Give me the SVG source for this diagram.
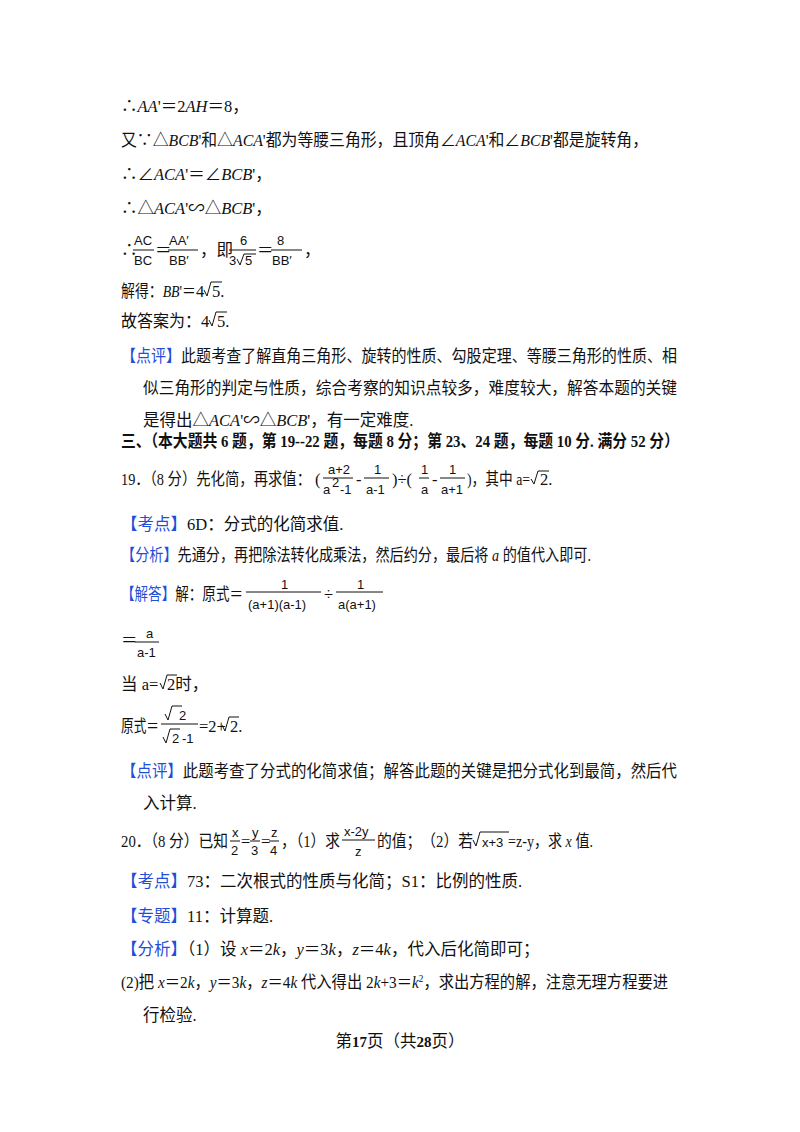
<svg xmlns="http://www.w3.org/2000/svg" width="800" height="1132" viewBox="0 0 800 1132">
<style>
text{font-family:"Liberation Serif","Noto Sans CJK SC",serif;font-size:16.5px;fill:#111}
.i{font-style:italic}
.b{fill:#1f4fd8}
.s{font-family:"Liberation Sans","Noto Sans CJK SC",sans-serif;font-size:13px}
.bold{font-weight:bold}
line{stroke:#111;stroke-width:1}
path{fill:none;stroke:#111;stroke-width:1}
</style>
<rect width="800" height="1132" fill="#fff"/>
<g id="body">
<text x="121" y="112">∴<tspan class="i">AA</tspan>'＝2<tspan class="i">AH</tspan>＝8，</text>
<text x="121" y="146" textLength="527" lengthAdjust="spacingAndGlyphs">又∵△<tspan class="i">BCB</tspan>'和△<tspan class="i">ACA</tspan>'都为等腰三角形，且顶角∠<tspan class="i">ACA</tspan>'和∠<tspan class="i">BCB</tspan>'都是旋转角，</text>
<text x="121" y="180">∴∠<tspan class="i">ACA</tspan>'＝∠<tspan class="i">BCB</tspan>'，</text>
<text x="121" y="214">∴△<tspan class="i">ACA</tspan>'∽△<tspan class="i">BCB</tspan>'，</text>
<text x="121" y="256">∴</text>
<text class="s" x="134" y="245">AC</text><line x1="133" y1="250" x2="154" y2="250"/><text class="s" x="134" y="265">BC</text>
<text x="155" y="256">＝</text>
<text class="s" x="169" y="245">AA′</text><line x1="168" y1="250" x2="198" y2="250"/><text class="s" x="169" y="265">BB′</text>
<text x="200" y="256">，即</text>
<text class="s" x="240" y="245">6</text><line x1="229" y1="250" x2="256" y2="250"/><text class="s" x="229" y="265">3</text><path d="M237 259 l3 6 l4 -11 h12"/><text class="s" x="245" y="265">5</text>
<text x="257" y="256">＝</text>
<text class="s" x="277" y="245">8</text><line x1="271" y1="250" x2="302" y2="250"/><text class="s" x="272" y="265">BB′</text>
<text x="304" y="256">，</text>
<text x="121" y="297" textLength="75" lengthAdjust="spacingAndGlyphs">解得：<tspan class="i">BB</tspan>'＝</text><text x="196" y="297">4</text><path d="M204 290 l3 6 l4 -14 h11"/><text x="212" y="297">5.</text>
<text x="121" y="327" textLength="80" lengthAdjust="spacingAndGlyphs">故答案为：</text><text x="201" y="327">4</text><path d="M209 320 l3 6 l4 -14 h11"/><text x="217" y="327">5.</text>
<text x="121" y="362" textLength="556" lengthAdjust="spacingAndGlyphs"><tspan class="b">【点评】</tspan>此题考查了解直角三角形、旋转的性质、勾股定理、等腰三角形的性质、相</text>
<text x="143" y="394" textLength="534" lengthAdjust="spacingAndGlyphs">似三角形的判定与性质，综合考察的知识点较多，难度较大，解答本题的关键</text>
<text x="143" y="426">是得出△<tspan class="i">ACA</tspan>'∽△<tspan class="i">BCB</tspan>'，有一定难度.</text>
<text x="121" y="447" class="bold" textLength="558" lengthAdjust="spacingAndGlyphs">三、（本大题共 6 题，第 19--22 题，每题 8 分；第 23、24 题，每题 10 分. 满分 52 分）</text>
<text x="121" y="485" textLength="190" lengthAdjust="spacingAndGlyphs">19．（8 分）先化简，再求值：</text><text x="315" y="485">(</text>
<text class="s" x="328" y="474">a+2</text><line x1="323" y1="478" x2="353" y2="478"/><text class="s" x="323" y="494">a</text><text class="s" x="332" y="487" font-size="10">2</text><text class="s" x="340" y="494">-1</text>
<text x="356" y="485">-</text>
<text class="s" x="374" y="474">1</text><line x1="364" y1="478" x2="389" y2="478"/><text class="s" x="366" y="494">a-1</text>
<text x="392" y="485">)÷(</text>
<text class="s" x="421" y="474">1</text><line x1="419" y1="478" x2="429" y2="478"/><text class="s" x="421" y="494">a</text>
<text x="432" y="485">-</text>
<text class="s" x="449" y="474">1</text><line x1="440" y1="478" x2="465" y2="478"/><text class="s" x="441" y="494">a+1</text>
<text x="467" y="485" textLength="63" lengthAdjust="spacingAndGlyphs">)，其中 a=</text><path d="M531 479 l3 5 l4 -13 h11"/><text x="540" y="485">2.</text>
<text x="121" y="530"><tspan class="b">【考点】</tspan>6D：分式的化简求值.</text>
<text x="121" y="561" textLength="470" lengthAdjust="spacingAndGlyphs"><tspan class="b">【分析】</tspan>先通分，再把除法转化成乘法，然后约分，最后将 <tspan class="i">a</tspan> 的值代入即可.</text>
<text x="121" y="600" textLength="122" lengthAdjust="spacingAndGlyphs"><tspan class="b">【解答】</tspan>解：原式＝</text>
<text class="s" x="281" y="589">1</text><line x1="246" y1="592" x2="321" y2="592"/><text class="s" x="248" y="609">(a+1)(a-1)</text>
<text x="324" y="600">÷</text>
<text class="s" x="357" y="589">1</text><line x1="336" y1="592" x2="383" y2="592"/><text class="s" x="338" y="609">a(a+1)</text>
<text x="121" y="646">＝</text>
<text class="s" x="146" y="638">a</text><line x1="135" y1="642" x2="159" y2="642"/><text class="s" x="137" y="657">a-1</text>
<text x="121" y="690">当 a=</text><path d="M160 683 l3 6 l4 -14 h10"/><text x="167" y="690">2时，</text>
<text x="121" y="732" textLength="38" lengthAdjust="spacingAndGlyphs">原式＝</text>
<text class="s" x="179" y="720">2</text><path d="M165 714 l3 6 l4 -14 h10"/><line x1="161" y1="724" x2="198" y2="724"/>
<path d="M163 737 l3 6 l4 -14 h10"/><text class="s" x="172" y="743">2</text><text class="s" x="182" y="743">-1</text>
<text x="199" y="732">=2+</text><path d="M222 725 l3 6 l4 -14 h10"/><text x="230" y="732">2.</text>
<text x="121" y="777" textLength="556" lengthAdjust="spacingAndGlyphs"><tspan class="b">【点评】</tspan>此题考查了分式的化简求值；解答此题的关键是把分式化到最简，然后代</text>
<text x="143" y="809">入计算.</text>
<text x="121" y="847" textLength="107" lengthAdjust="spacingAndGlyphs">20．（8 分）已知</text>
<text class="s" x="232" y="837">x</text><line x1="230" y1="841" x2="240" y2="841"/><text class="s" x="231" y="855">2</text>
<text x="241" y="847">=</text>
<text class="s" x="252" y="837">y</text><line x1="250" y1="841" x2="260" y2="841"/><text class="s" x="251" y="855">3</text>
<text x="261" y="847">=</text>
<text class="s" x="271" y="837">z</text><line x1="269" y1="841" x2="279" y2="841"/><text class="s" x="270" y="855">4</text>
<text x="281" y="847" textLength="59" lengthAdjust="spacingAndGlyphs">，（1）求</text>
<text class="s" x="344" y="836">x-2y</text><line x1="342" y1="840" x2="375" y2="840"/><text class="s" x="355" y="856">z</text>
<text x="377" y="847" textLength="96" lengthAdjust="spacingAndGlyphs">的值；　（2）若</text><path d="M473 840 l3 6 l4 -14 h29"/><text class="s" x="482" y="847">x+3</text><text x="508" y="847" textLength="85" lengthAdjust="spacingAndGlyphs">=z-y，求 <tspan class="i">x</tspan> 值.</text>
<text x="121" y="887"><tspan class="b">【考点】</tspan>73：二次根式的性质与化简；S1：比例的性质.</text>
<text x="121" y="922"><tspan class="b">【专题】</tspan>11：计算题.</text>
<text x="121" y="955"><tspan class="b">【分析】</tspan>（1）设 <tspan class="i">x</tspan>＝2<tspan class="i">k</tspan>，<tspan class="i">y</tspan>＝3<tspan class="i">k</tspan>，<tspan class="i">z</tspan>＝4<tspan class="i">k</tspan>，代入后化简即可；</text>
<text x="121" y="988" textLength="547" lengthAdjust="spacingAndGlyphs">(2)把 <tspan class="i">x</tspan>＝2<tspan class="i">k</tspan>，<tspan class="i">y</tspan>＝3<tspan class="i">k</tspan>，<tspan class="i">z</tspan>＝4<tspan class="i">k</tspan> 代入得出 2<tspan class="i">k</tspan>+3＝<tspan class="i">k</tspan><tspan font-size="10" dy="-6">2</tspan><tspan dy="6">，求出方程的解，注意无理方程要进</tspan></text>
<text x="143" y="1021">行检验.</text>
<text x="400" y="1047" text-anchor="middle" font-size="13">第<tspan class="bold" font-size="15">17</tspan>页（共<tspan class="bold" font-size="15">28</tspan>页）</text>
</g>
</svg>
